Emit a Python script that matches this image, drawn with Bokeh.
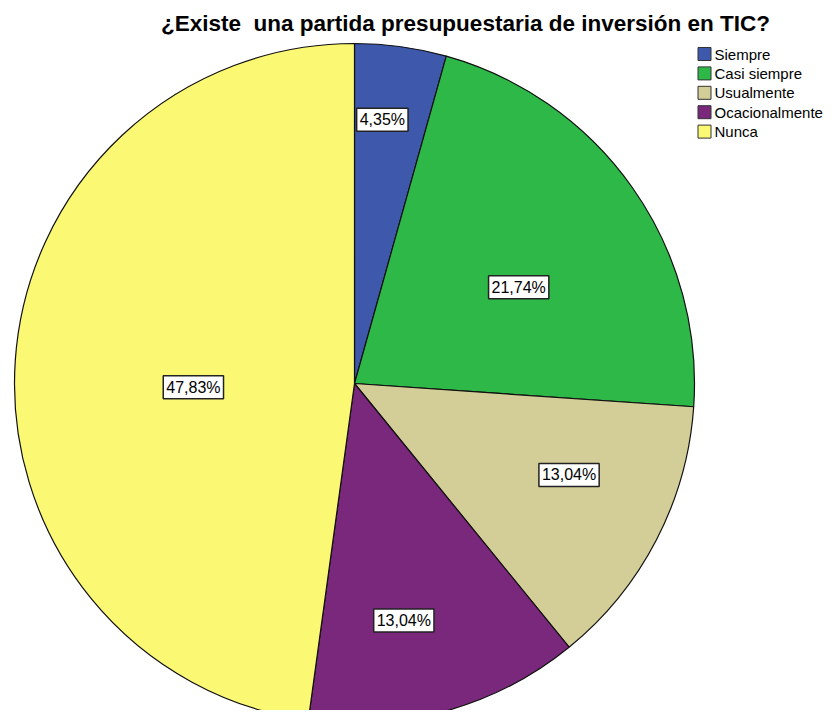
import math
from bokeh.plotting import figure
from bokeh.models import Range1d, Label, ColumnDataSource
from bokeh.core.properties import value
from bokeh.embed import file_html
from bokeh.resources import INLINE

# ---- data ----
title_text = "¿Existe  una partida presupuestaria de inversión en TIC?"
categories = ["Siempre", "Casi siempre", "Usualmente", "Ocacionalmente", "Nunca"]
percents = [4.35, 21.74, 13.04, 13.04, 47.83]
pct_labels = ["4,35%", "21,74%", "13,04%", "13,04%", "47,83%"]
colors = ["#3E58AC", "#2EB848", "#D3CE97", "#7A287C", "#FBF873"]

# ---- layout / style ----
W, H = 826, 710
CX, CY, R = 354, 383, 340
label_dist = [0.78, 0.56, 0.686, 0.712, 0.474]
label_shift = [1.8, -4.8, 4.3, -3.9, 5.2]
FONT = "Liberation Sans"

def py(y):
    return -y

p = figure(width=W, height=H, output_backend="svg", toolbar_location=None,
           x_range=Range1d(0, W), y_range=Range1d(-H, 0),
           min_border=0, outline_line_color=None)
p.axis.visible = False
p.grid.visible = False
p.background_fill_color = "white"
p.border_fill_color = "white"

total = sum(percents)
starts, ends, mids = [], [], []
cum = 0.0
for v in percents:
    a0 = math.pi / 2 - 2 * math.pi * cum / total
    cum += v
    a1 = math.pi / 2 - 2 * math.pi * cum / total
    starts.append(a0)
    ends.append(a1)
    mids.append((a0 + a1) / 2)

src = ColumnDataSource(dict(start=starts, end=ends, color=colors,
                            x=[CX] * len(percents), y=[py(CY)] * len(percents)))
p.wedge(x="x", y="y", radius=R, radius_units="screen",
        start_angle="start", end_angle="end", direction="clock",
        fill_color="color", line_color="#111111", line_width=1.2, source=src)

for i, lab in enumerate(pct_labels):
    ang = mids[i] + math.radians(label_shift[i])
    lx = CX + R * label_dist[i] * math.cos(ang)
    ly = CY - R * label_dist[i] * math.sin(ang)
    p.add_layout(Label(x=lx, y=py(ly), text=lab, text_align="center",
                       text_baseline="middle", text_font=FONT,
                       text_font_size="16px", text_color="black",
                       background_fill_color="white",
                       border_line_color="#222222", border_line_width=1.5,
                       padding=3))

# title (keep the visible double space)
p.add_layout(Label(x=465, y=py(23), text=title_text.replace("  ", " \u00a0"),
                   text_align="center", text_baseline="alphabetic",
                   text_font=FONT, text_font_size="22.5px",
                   text_font_style="bold", text_color="black"))

# legend
LX, LY0, LDY, SQ = 704, 53.5, 19.4, 13
ly = [py(LY0 + i * LDY) for i in range(len(categories))]
p.rect(x=[LX] * len(categories), y=ly, width=SQ, height=SQ,
       width_units="screen", height_units="screen",
       fill_color=colors, line_color="#333333", line_width=1)
p.text(x=[LX + 10] * len(categories), y=ly, text=categories,
       text_font=value(FONT), text_font_size="15px",
       text_baseline="middle", text_align="left", text_color="black")

open("out.html", "w").write(file_html(p, INLINE))
